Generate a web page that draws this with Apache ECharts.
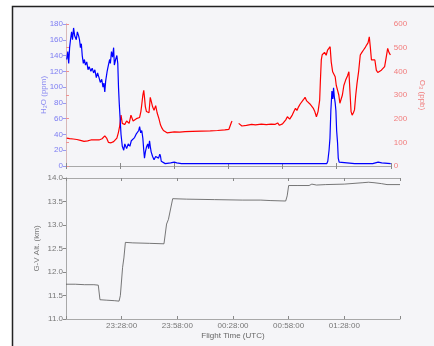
<!DOCTYPE html>
<html><head><meta charset="utf-8">
<script src="https://cdn.jsdelivr.net/npm/echarts@6/dist/echarts.min.js"></script>
<style>html,body{margin:0;padding:0;background:#fff}#c{width:434px;height:346px}</style>
</head><body><div id="c"></div>
<script>
// minutes after 22:58:00 UTC
const xTickLabels = ['', '23:28:00', '23:58:00', '00:28:00', '00:58:00', '01:28:00', ''];
const h2oTime = [0.4,1,1.5,2,2.5,3.1,3.6,4.2,4.8,5.7,6.3,7,7.5,8,8.5,9,9.6,10.2,10.8,11.5,12.2,12.8,13.8,14.5,15.3,16,16.8,17.5,18.3,19,19.8,20.5,21,21.5,22,22.8,23.5,24.2,24.6,25.2,25.8,26.4,26.8,27.5,28.2,28.7,29.1,29.5,30,30.5,31.2,32,32.6,33.6,34.5,35.4,36.2,37.2,38,38.8,39.6,40.3,40.8,41.4,42,42.6,43.1,43.5,44,44.6,45.3,45.8,46.3,46.7,47.2,48,48.8,49.7,50.5,51.3,52,52.4,52.8,53.9,55,56,58,60,61.4,64,70,80,90,100,110,120,130,140,144.5,145.1,145.8,146.3,146.8,147.4,147.9,148.3,148.7,149.2,149.6,150,150.5,150.9,151.4,152,160,170,173,175,180];
const h2oVals = [135,145,130,150,160,170,160,175,165,160,170,165,160,150,155,140,130,135,128,132,122,126,120,124,118,122,112,118,112,106,110,100,105,94,108,120,128,135,130,145,138,150,128,135,140,130,100,80,60,40,25,20,28,22,28,25,32,30,36,40,38,45,50,42,45,35,20,10,18,24,28,22,32,25,18,12,8,12,14,10,15,12,6,5,3,3,4,5,4,3,3,3,3,3,3,3,3,3,3,6,20,35,70,95,85,99,88,80,70,45,30,10,5,3,3,3,5,4,3];
const o3Time = [0.4,2,4,6,8,10,12,13.8,16,18.3,20,21.5,22.5,23.5,25,26.4,27.5,28.2,29,29.7,30.5,31.2,32.5,33.6,35,36,37.2,38,39,40,40.8,41.5,42,42.6,43.1,43.5,44,44.6,45.3,46,46.7,47.2,48,48.8,49.7,50.5,51.5,52.4,53.2,54,55,56,57,58,60,63,66,70,75,80,84,88,90.3,91.2,91.8,92.1,93.5,95.7,97.5,100,102.9,105,108.3,111,113.7,116,117.3,118.3,119.1,120,120.9,121.8,122.7,124,125.4,126.3,127.2,128,128.9,129.8,130.7,131.6,132.5,133.4,134.3,135.2,136.1,137,137.9,138.8,139.7,140.6,141,141.5,142,142.4,143.3,144.2,145,145.7,146.4,147,147.8,148.5,149.2,149.8,150.5,151.2,151.8,152.5,153.2,154,155,156,156.8,157.5,158,158.6,159.3,159.9,160.6,161.3,162.2,163.1,164,164.9,165.8,166.6,167.4,168.1,168.7,169.3,170.2,171.2,172,172.8,173.9,174.8,175.6,176.6,177.5,178.3,179,179.8];
const o3Vals = [118,116,114,112,108,104,106,110,110,110,115,127,118,100,98,103,105,118,140,166,215,180,175,190,180,215,190,185,200,195,205,230,260,300,320,290,250,230,237,225,290,275,250,235,255,225,200,173,160,150,142,140,142,142,144,143,145,146,147,148,150,153,155,158,187,190,null,180,169,172,176,174,177,175,177,176,182,172,169,178,180,195,208,198,215,230,244,235,250,262,265,280,290,275,270,262,257,245,230,208,230,278,360,448,470,465,480,468,490,490,504,440,398,390,377,340,321,300,265,270,300,340,363,380,398,300,230,215,225,237,300,349,400,469,480,490,500,511,520,546,500,448,452,448,405,395,392,405,413,420,460,497,480,469];
const altTime = [0,5,10,15,17.4,18.3,22,26,28.6,29.3,30.5,31.2,32,36,45,52.8,54.2,55.2,57.5,65,80,95,105,110,118.4,119.2,120,125,131,131.8,132.5,135,140,150,160,163,166,170,173,180];
const altVals = [11.74,11.74,11.73,11.73,11.72,11.41,11.40,11.39,11.38,11.5,12.1,12.3,12.63,12.62,12.61,12.60,13.02,13.12,13.56,13.55,13.54,13.53,13.53,13.52,13.51,13.62,13.84,13.84,13.84,13.82,13.87,13.85,13.86,13.87,13.9,13.91,13.9,13.88,13.86,13.86];

const pair = (t, v) => t.map((x, i) => [x, v[i]]);
const F = 'Liberation Sans, Arial, sans-serif';
const grey = '#a8a8a8';
const xLab = v => xTickLabels[Math.round(v / 30)] || '';

function xAx(grid, pos, labels, extra) {
  return Object.assign({
    type: 'value', gridIndex: grid, position: pos, min: 0, max: 180, interval: 30,
    axisLine: { show: true, lineStyle: { color: grey, width: 1 } },
    axisTick: { show: true, inside: true, length: 3, lineStyle: { color: '#888' } },
    axisLabel: labels ? { show: true, formatter: xLab, fontSize: 8, fontFamily: F, color: '#777', margin: 3 } : { show: false },
    splitLine: { show: false }
  }, extra || {});
}

const chart = echarts.init(document.getElementById('c'), null, { renderer: 'canvas' });
chart.setOption({
  backgroundColor: '#ffffff',
  animation: false,
  graphic: [{
    type: 'rect', z: -100, silent: true,
    shape: { x: 12.5, y: 6.5, width: 440, height: 360 },
    style: { fill: '#f5f5f8', stroke: '#222', lineWidth: 1.5 }
  }],
  grid: [
    { left: 66, top: 24, width: 334, height: 142 },
    { left: 66, top: 178, width: 334, height: 141 }
  ],
  xAxis: [
    xAx(0, 'bottom', false),
    xAx(0, 'top', false),
    xAx(1, 'bottom', true, { name: 'Flight Time (UTC)', nameLocation: 'middle', nameGap: 13, nameMoveOverlap: false, nameTextStyle: { fontSize: 8, fontFamily: F, color: '#666' } }),
    xAx(1, 'top', false)
  ],
  yAxis: [
    {
      type: 'value', gridIndex: 0, position: 'left', min: 0, max: 180, interval: 20,
      name: 'H\u2082O (ppm)', nameLocation: 'middle', nameGap: 18, nameMoveOverlap: false,
      nameTextStyle: { fontSize: 8, fontFamily: F, color: '#8a8af0' },
      axisLine: { show: true, lineStyle: { color: '#c4c4e4' } },
      axisTick: { show: true, length: 3, lineStyle: { color: '#9a9af0' } },
      axisLabel: { fontSize: 8, fontFamily: F, color: '#7c7cf2', margin: 3 },
      splitLine: { show: false }
    },
    {
      type: 'value', gridIndex: 0, position: 'right', min: 0, max: 600, interval: 100,
      name: 'O\u2083 (ppb)', nameLocation: 'middle', nameGap: 20, nameRotate: -90,
      nameTextStyle: { fontSize: 8, fontFamily: F, color: '#f07a7a' },
      axisLine: { show: true, lineStyle: { color: '#d8b8b8' } },
      axisTick: { show: true, length: 3, lineStyle: { color: '#f09090' } },
      axisLabel: { fontSize: 8, fontFamily: F, color: '#f27c7c', margin: 3 },
      splitLine: { show: false }
    },
    {
      type: 'value', gridIndex: 1, position: 'left', min: 11, max: 14, interval: 0.5,
      name: 'G-V Alt. (km)', nameLocation: 'middle', nameGap: 25, nameMoveOverlap: false,
      nameTextStyle: { fontSize: 8, fontFamily: F, color: '#777' },
      axisLine: { show: true, lineStyle: { color: grey } },
      axisTick: { show: true, length: 3, lineStyle: { color: '#888' } },
      axisLabel: { fontSize: 8, fontFamily: F, color: '#777', margin: 3, formatter: v => v.toFixed(1) },
      splitLine: { show: false }
    },
    {
      type: 'value', gridIndex: 1, position: 'right', min: 11, max: 14, interval: 0.5,
      axisLine: { show: true, lineStyle: { color: grey } },
      axisTick: { show: true, inside: true, length: 3, lineStyle: { color: '#888' } },
      axisLabel: { show: false },
      splitLine: { show: false }
    }
  ],
  series: [
    {
      type: 'line', name: 'O3', xAxisIndex: 0, yAxisIndex: 1, data: pair(o3Time, o3Vals),
      showSymbol: false, connectNulls: false, lineStyle: { color: '#ff0000', width: 1.2 }, z: 2
    },
    {
      type: 'line', name: 'H2O', xAxisIndex: 0, yAxisIndex: 0, data: pair(h2oTime, h2oVals),
      showSymbol: false, lineStyle: { color: '#0000ff', width: 1.2 }, z: 3
    },
    {
      type: 'line', name: 'Alt', xAxisIndex: 2, yAxisIndex: 2, data: pair(altTime, altVals),
      showSymbol: false, lineStyle: { color: '#555', width: 0.8 }
    }
  ]
});
</script>
</body></html>
